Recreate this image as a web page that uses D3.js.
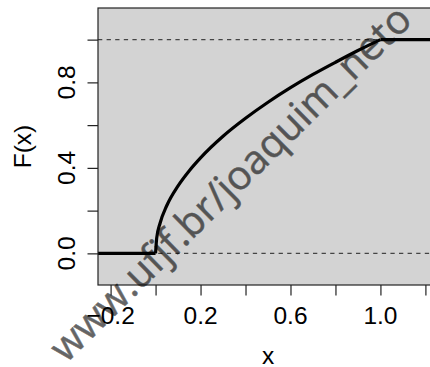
<!DOCTYPE html>
<html>
<head>
<meta charset="utf-8">
<script src="https://cdn.jsdelivr.net/npm/d3@7"></script>
<style>
  body { margin: 0; background: #fff; }
  svg { display: block; }
</style>
</head>
<body>
<div id="chart"></div>
<script>
// values
var curveX = [0, 0.005, 0.02, 0.05, 0.1, 0.15, 0.2, 0.3, 0.4, 0.5, 0.6, 0.7, 0.8, 0.9, 1.0];
var curveF = [0, 0.071, 0.141, 0.224, 0.316, 0.387, 0.447, 0.548, 0.632, 0.707, 0.775, 0.837, 0.894, 0.949, 1.0];
var flatLeft = [[-0.3, 0], [0, 0]];
var flatRight = [[1.0, 1], [1.3, 1]];
var refLines = [0, 1];

var xTicks = [-0.2, 0, 0.2, 0.4, 0.6, 0.8, 1.0, 1.2];
var xLabelVals = [-0.2, 0.2, 0.6, 1.0];
var xLabelText = ["\u22120.2", "0.2", "0.6", "1.0"];
var yTicks = [0, 0.2, 0.4, 0.6, 0.8, 1.0];
var yLabelVals = [0, 0.4, 0.8];
var yLabelText = ["0.0", "0.4", "0.8"];

var W = 430, H = 367;
// panel edges (note: "top" is a reserved window prop, so use p* names)
var pL = 98, pT = 8, pR = 438, pB = 285;

var svg = d3.select("#chart").append("svg")
  .attr("width", W).attr("height", H);

var x = d3.scaleLinear().domain([-0.256, 1.256]).range([pL, pR]);
var y = d3.scaleLinear().domain([-0.148, 1.148]).range([pB, pT]);

svg.append("clipPath").attr("id", "clip")
  .append("rect").attr("x", pL).attr("y", pT)
  .attr("width", pR - pL).attr("height", pB - pT);

// panel
svg.append("rect")
  .attr("x", pL).attr("y", pT)
  .attr("width", pR - pL).attr("height", pB - pT)
  .attr("fill", "#d3d3d3");

var plot = svg.append("g").attr("clip-path", "url(#clip)");

// dashed reference lines
plot.selectAll(".ref").data(refLines).enter().append("line")
  .attr("x1", pL).attr("x2", pR)
  .attr("y1", function(d) { return y(d); })
  .attr("y2", function(d) { return y(d); })
  .attr("stroke", "#444").attr("stroke-width", 1.1)
  .attr("stroke-dasharray", "4.3,4.3");

var flat = d3.line().x(function(d) { return x(d[0]); }).y(function(d) { return y(d[1]); });
plot.selectAll(".flat").data([flatLeft, flatRight]).enter().append("path")
  .attr("d", flat)
  .attr("fill", "none").attr("stroke", "#000").attr("stroke-width", 3.2);

var pts = curveX.map(function(v, i) { return [v, curveF[i]]; });
var line = d3.line()
  .x(function(d) { return x(d[0]); })
  .y(function(d) { return y(d[1]); })
  .curve(d3.curveMonotoneX);
plot.append("path").datum(pts)
  .attr("d", line)
  .attr("fill", "none").attr("stroke", "#000").attr("stroke-width", 3.2)
  .attr("stroke-linejoin", "round");

// box
svg.append("rect")
  .attr("x", pL).attr("y", pT)
  .attr("width", pR - pL).attr("height", pB - pT)
  .attr("fill", "none").attr("stroke", "#222").attr("stroke-width", 1.2);

// axes (ticks only, labels placed by hand below)
svg.append("g").attr("transform", "translate(0," + pB + ")")
  .call(d3.axisBottom(x).tickValues(xTicks).tickSize(10.5).tickFormat(""));
svg.append("g").attr("transform", "translate(" + pL + ",0)")
  .call(d3.axisLeft(y).tickValues(yTicks).tickSize(10.5).tickFormat(""));
svg.selectAll(".domain").remove();
svg.selectAll(".tick line").attr("stroke", "#222").attr("stroke-width", 1.2);

var font = "'Liberation Sans', Arial, sans-serif";

svg.selectAll(".xlab").data(xLabelVals).enter().append("text")
  .attr("x", function(d) { return x(d); })
  .attr("y", 323.5)
  .attr("text-anchor", "middle")
  .attr("font-family", font).attr("font-size", 24.5)
  .text(function(d, i) { return xLabelText[i]; });

svg.selectAll(".ylab").data(yLabelVals).enter().append("text")
  .attr("transform", function(d) { return "translate(75," + y(d) + ") rotate(-90)"; })
  .attr("text-anchor", "middle")
  .attr("font-family", font).attr("font-size", 24.5)
  .text(function(d, i) { return yLabelText[i]; });

svg.append("text")
  .attr("x", (pL + pR) / 2).attr("y", 363.5)
  .attr("text-anchor", "middle")
  .attr("font-family", font).attr("font-size", 24.5)
  .text("x");

svg.append("text")
  .attr("transform", "translate(31," + (pT + pB) / 2 + ") rotate(-90)")
  .attr("text-anchor", "middle")
  .attr("font-family", font).attr("font-size", 24.5)
  .text("F(x)");

// watermark, semi transparent so the curve stays black under it
var wmG = svg.append("g").attr("opacity", 0.6);
var wm = wmG.append("text")
  .attr("transform", "translate(240,193) rotate(-44.5)")
  .attr("text-anchor", "middle")
  .attr("font-family", "'Open Sans', sans-serif")
  .attr("font-size", 100)
  .attr("fill", "#000").attr("stroke", "#000").attr("stroke-width", 0.5)
  .text("www.ufjf.br/joaquim_neto");
var len = wm.node().getComputedTextLength();
wm.attr("font-size", 100 * 488 / len);
</script>
</body>
</html>
